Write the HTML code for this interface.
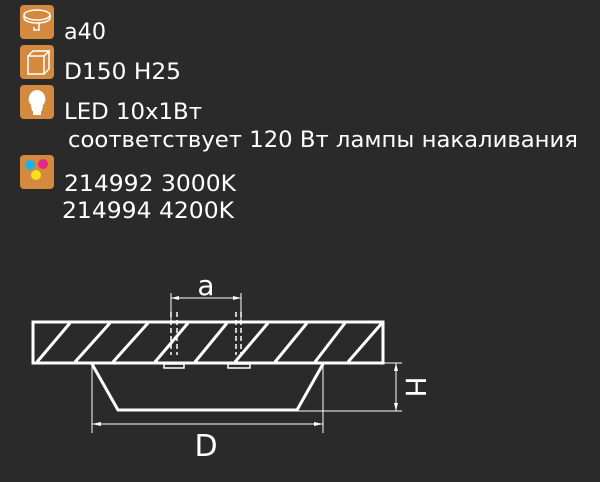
<!DOCTYPE html>
<html><head><meta charset="utf-8"><style>
html,body{margin:0;padding:0;background:#2b2a2a;}
svg{display:block}
text{font-family:"DejaVu Sans","Liberation Sans",sans-serif;fill:#fff;}
</style></head><body>
<svg width="600" height="482" viewBox="0 0 600 482" xmlns="http://www.w3.org/2000/svg">
<rect width="600" height="482" fill="#2b2a2a"/>
<g fill="#d48a3e">
<rect x="20" y="5" width="34" height="34" rx="4"/>
<rect x="20" y="45" width="34" height="34" rx="4"/>
<rect x="20" y="85" width="34" height="34" rx="4"/>
<rect x="20" y="155" width="34" height="34" rx="4"/>
</g>
<g stroke="#fff" stroke-width="1.5" fill="none">
<ellipse cx="37" cy="15" rx="13" ry="5"/>
<path d="M24 15v3a13 5 0 0 0 26 0v-3"/>
<path d="M39 22v8h-5v-3"/>
<path d="M28 56h16v18h-16z M28 56l5-5h16l-5 5 M44 74l5-5v-18"/>
</g>
<path d="M37 90a9 9 0 0 1 6 15l-1 6h-10l-1-6a9 9 0 0 1 6-15z" fill="#fff"/>
<rect x="33" y="111" width="8" height="4" fill="#fff"/>
<circle cx="30" cy="165" r="5" fill="#1fb0e8"/>
<circle cx="43" cy="164" r="5" fill="#e8258a"/>
<circle cx="36" cy="175" r="5" fill="#f5e01a"/>
<g font-size="22">
<text x="64" y="39" textLength="42" lengthAdjust="spacingAndGlyphs">a40</text>
<text x="64" y="79" textLength="117" lengthAdjust="spacingAndGlyphs">D150 H25</text>
<text x="64" y="119" textLength="138" lengthAdjust="spacingAndGlyphs">LED 10x1Вт</text>
<text x="68" y="147" textLength="510" lengthAdjust="spacingAndGlyphs">соответствует 120 Вт лампы накаливания</text>
<text x="64" y="191" textLength="172" lengthAdjust="spacingAndGlyphs">214992 3000K</text>
<text x="62" y="218" textLength="172" lengthAdjust="spacingAndGlyphs">214994 4200K</text>
</g>
<g stroke="#fff" fill="none">
<rect x="33" y="322" width="350" height="41" stroke-width="3"/>
<g stroke-width="3">
<line x1="37" y1="362" x2="70" y2="323"/>
<line x1="75" y1="362" x2="110" y2="323"/>
<line x1="113" y1="362" x2="148" y2="323"/>
<line x1="155" y1="362" x2="188" y2="323"/>
<line x1="195" y1="362" x2="227" y2="323"/>
<line x1="235" y1="362" x2="268" y2="323"/>
<line x1="275" y1="362" x2="307" y2="323"/>
<line x1="315" y1="362" x2="345" y2="323"/>
<line x1="348" y1="362" x2="382" y2="323"/>
</g>
<path d="M92 364L118 410H297L323 364" stroke-width="3"/>
<rect x="164" y="364" width="20" height="4" stroke-width="1.5"/>
<rect x="228" y="364" width="22" height="4" stroke-width="1.5"/>
<g stroke-width="1.5" stroke-dasharray="5,3">
<line x1="171" y1="312" x2="171" y2="355"/>
<line x1="177" y1="312" x2="177" y2="355"/>
<line x1="236" y1="312" x2="236" y2="355"/>
<line x1="241" y1="312" x2="241" y2="355"/>
</g>
<g stroke-width="1">
<line x1="171" y1="293" x2="171" y2="322"/>
<line x1="241" y1="293" x2="241" y2="322"/>
<line x1="171" y1="298" x2="241" y2="298"/>
<line x1="92" y1="364" x2="92" y2="433"/>
<line x1="323" y1="364" x2="323" y2="433"/>
<line x1="92" y1="424" x2="323" y2="424"/>
<line x1="383" y1="363" x2="402" y2="363"/>
<line x1="297" y1="411" x2="402" y2="411"/>
<line x1="396" y1="363" x2="396" y2="411"/>
</g>
</g>
<g fill="#fff">
<path d="M171 298l8-2v4z M241 298l-8-2v4z M92 424l9-2v4z M323 424l-9-2v4z M396 363l-2 8h4z M396 411l-2-8h4z"/>
</g>
<text x="206" y="295" font-size="28" text-anchor="middle" font-family="Liberation Sans">a</text>
<text x="206" y="456" font-size="30" text-anchor="middle" font-family="Liberation Sans">D</text>
<text x="0" y="0" font-size="28" text-anchor="middle" font-family="Liberation Sans" transform="translate(406 387) rotate(90)">H</text>
</svg>
</body></html>
